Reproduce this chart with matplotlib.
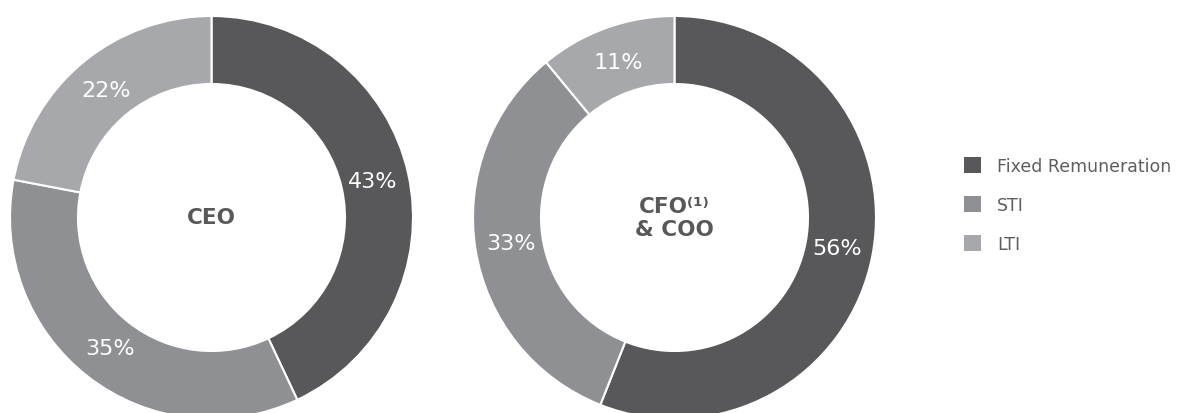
import matplotlib
matplotlib.use("Agg")
import matplotlib.pyplot as plt
from matplotlib.patches import Patch

categories = ["Fixed Remuneration", "STI", "LTI"]
ceo_values = [43, 35, 22]
cfo_values = [56, 33, 11]
chart_titles = ["CEO", "CFO\u207d\u00b9\u207e\n& COO"]
colors = ["#58585b", "#8f9094", "#a7a8ac"]
text_dark = "#58585b"

W, H = 1183, 414
fig = plt.figure(figsize=(W / 100, H / 100), dpi=100)
ax = fig.add_axes([0, 0, 1, 1])

R = 201.5
ring = 68
cy = H - 218.5
centers = [(211.5, cy), (674.5, cy)]

for vals, (cx, cyy), title in zip([ceo_values, cfo_values], centers, chart_titles):
    wedges, texts, autotexts = ax.pie(
        vals, radius=R, center=(cx, cyy), startangle=90, counterclock=False,
        colors=colors, autopct=lambda p: f"{p:.0f}%", pctdistance=0.82,
        wedgeprops=dict(width=ring, edgecolor="white", linewidth=1.5),
        textprops=dict(color="white", fontsize=16, family="DejaVu Sans"),
        frame=True,
    )
    ax.text(cx, cyy, title, ha="center", va="center", color=text_dark,
            fontsize=15.5, fontweight="bold", family="DejaVu Sans",
            linespacing=1.15)

ax.set_xlim(0, W)
ax.set_ylim(0, H)
ax.set_aspect("equal")
ax.axis("off")

handles = [Patch(facecolor=c, edgecolor="none", label=l) for c, l in zip(colors, categories)]
leg = fig.legend(handles=handles, loc="center left",
                 bbox_to_anchor=(964 / W, (H - 206) / H),
                 frameon=False, fontsize=12.5, handlelength=1.0, handleheight=1.0,
                 handletextpad=0.9, labelspacing=1.2, borderpad=0, borderaxespad=0)
for t in leg.get_texts():
    t.set_color("#5e5e60")

fig.savefig("out.png", dpi=100)
